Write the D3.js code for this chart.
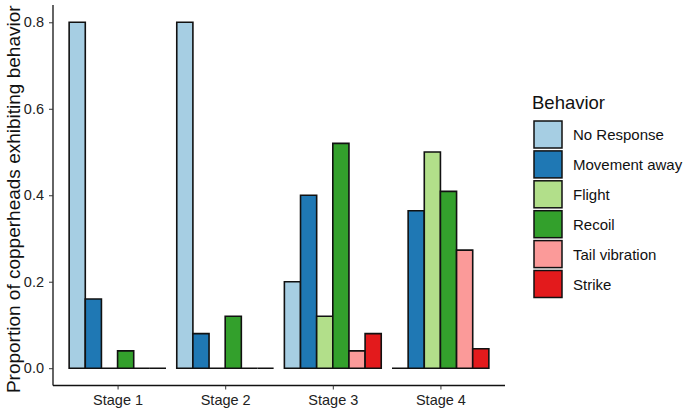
<!DOCTYPE html>
<html><head><meta charset="utf-8">
<script src="https://cdn.jsdelivr.net/npm/d3@7"></script>
<style>body{margin:0;background:#fff;} text{font-family:"Liberation Sans",Arial,sans-serif;}</style>
</head><body><svg id="c" width="685" height="410"></svg>
<script>
const stages = ["Stage 1","Stage 2","Stage 3","Stage 4"];
const behaviors = ["No Response","Movement away","Flight","Recoil","Tail vibration","Strike"];
const colors = ["#A6CEE3","#1F78B4","#B2DF8A","#33A02C","#FB9A99","#E31A1C"];
const noResponse   = [0.8, 0.8, 0.2, 0];
const movementAway = [0.16, 0.08, 0.4, 0.364];
const flight       = [0, 0, 0.12, 0.5];
const recoil       = [0.04, 0.12, 0.52, 0.409];
const tailVib      = [0, 0, 0.04, 0.273];
const strike       = [0, 0, 0.08, 0.045];
const yTicks = [0, 0.2, 0.4, 0.6, 0.8];
const series = [noResponse, movementAway, flight, recoil, tailVib, strike];

const svg = d3.select("#c");
const xL = 53, xR = 505, yTop = 5, yBot = 385.5;
const unit = (xR - xL) / 4.2;
const xc = d3.scalePoint().domain(stages).range([xL + 0.6*unit, xR - 0.6*unit]);
const bw = 0.9*unit;
const xs = d3.scaleBand().domain(behaviors).range([0, bw]);
const y = d3.scaleLinear().domain([-0.04, 0.84]).range([yBot, yTop]);

const data = [];
stages.forEach((s, i) => behaviors.forEach((b, j) => data.push({s, b, v: series[j][i], c: colors[j]})));

svg.append("g").selectAll("path").data(data).join("path")
  .attr("d", d => {
    const x0 = xc(d.s) - bw/2 + xs(d.b), w = xs.bandwidth();
    const y0 = y(0), y1 = y(d.v);
    return `M${x0},${y0}V${y1}H${x0+w}V${y0}Z`;
  })
  .attr("fill", d => d.c).attr("stroke", "#111").attr("stroke-width", 1.6)
  .attr("stroke-linejoin", "miter");

// axes
const gy = svg.append("g").attr("transform", `translate(${xL},0)`)
  .call(d3.axisLeft(y).tickValues(yTicks).tickFormat(d3.format(".1f")).tickSize(4).tickPadding(5));
gy.select(".domain").attr("d", `M0,${yTop}V${yBot}`).attr("stroke", "#111").attr("stroke-width", 1.3);
gy.selectAll(".tick line").attr("stroke", "#333");
gy.selectAll("text").attr("font-size", 14.5).attr("fill", "#222");

const gx = svg.append("g").attr("transform", `translate(0,${yBot})`)
  .call(d3.axisBottom(xc).tickSize(4).tickPadding(5));
gx.select(".domain").attr("d", `M${xL},0H${xR}`).attr("stroke", "#111").attr("stroke-width", 1.3);
gx.selectAll(".tick line").attr("stroke", "#333");
gx.selectAll("text").attr("font-size", 14.5).attr("fill", "#222");

svg.append("text").attr("transform", `translate(20,${(yTop+yBot)/2 + 4}) rotate(-90)`)
  .attr("text-anchor", "middle").attr("font-size", 19).attr("fill", "#111")
  .text("Proportion of copperheads exhibiting behavior");

// legend
const lg = svg.append("g");
lg.append("text").attr("x", 532).attr("y", 109).attr("font-size", 18.5).attr("fill", "#111").text("Behavior");
const li = lg.selectAll("g.k").data(behaviors).join("g").attr("class", "k")
  .attr("transform", (d, i) => `translate(534,${121 + i*29.9})`);
li.append("rect").attr("width", 28).attr("height", 27)
  .attr("fill", (d, i) => colors[i]).attr("stroke", "#111").attr("stroke-width", 1.5);
li.append("text").attr("x", 39).attr("y", 19).attr("font-size", 15).attr("fill", "#111").text(d => d);
</script></body></html>
